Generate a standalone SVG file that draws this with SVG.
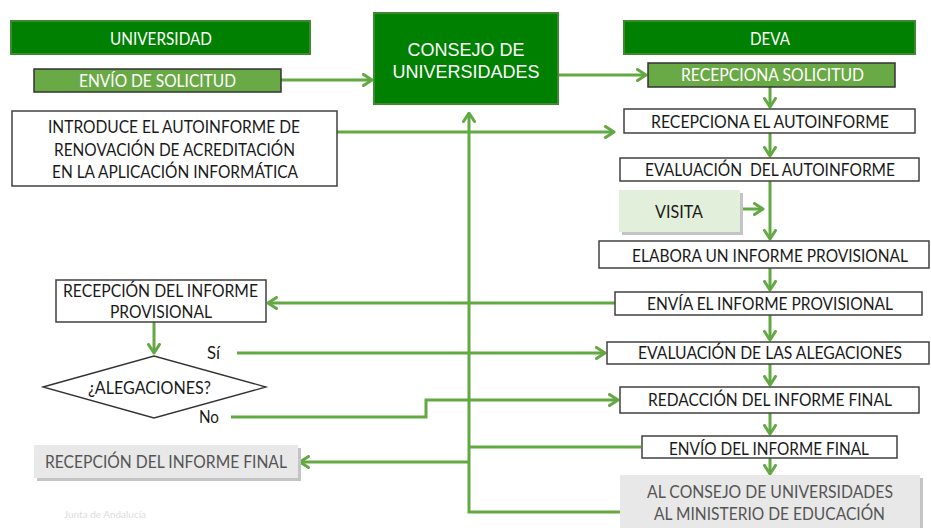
<svg xmlns="http://www.w3.org/2000/svg" width="931" height="528" viewBox="0 0 931 528">
<style>
.t{font-family:Lato,"Liberation Sans",sans-serif;font-size:17px;fill:#1a1a1a;text-anchor:start}
.w{fill:#ffffff}
.g{fill:#555555}
.hdr{fill:#008000;stroke:#3f8a30;stroke-width:2}
.mid{fill:#6aaa46;stroke:#333333;stroke-width:1.5}
.box{fill:#ffffff;stroke:#404040;stroke-width:1.5}
.gray{fill:#e8e8e8}
.shadow{fill:#c4c4c4}
.c{fill:none;stroke:#62a843;stroke-width:3}
.a{marker-end:url(#ah)}
</style>
<defs>
<marker id="ah" viewBox="0 0 12 14" refX="10.5" refY="7" markerWidth="12" markerHeight="14" markerUnits="userSpaceOnUse" orient="auto">
<path d="M2,1.5 L10.5,7 L2,12.5" fill="none" stroke="#62a843" stroke-width="3" stroke-linecap="round" stroke-linejoin="round"/>
</marker>
</defs>

<g id="connectors">
<path class="c a" d="M281,80 H372"/>
<path class="c a" d="M558,75 H646"/>
<path class="c a" d="M337,132 H614"/>
<path class="c a" d="M770,87 V107"/>
<path class="c a" d="M770,133 V156"/>
<path class="c a" d="M770,181 V239"/>
<path class="c a" d="M740,209 H763"/>
<path class="c a" d="M770,268 V290"/>
<path class="c a" d="M770,315 V340"/>
<path class="c a" d="M770,364 V385"/>
<path class="c a" d="M770,413 V434"/>
<path class="c a" d="M770,458 V474"/>
<path class="c a" d="M615,303 H268"/>
<path class="c a" d="M154,322 V353"/>
<path class="c a" d="M237,353 H605"/>
<path class="c a" d="M231,417 H426 V400 H618"/>
<path class="c" d="M641,447 H469"/>
<path class="c a" d="M620,512 H469 V113"/>
<path class="c a" d="M469,462 H300"/>
</g>

<g id="universidad">
<rect class="hdr" x="11" y="21" width="299" height="33"/>
<text class="t w" x="110" y="45" font-size="16" textLength="102" lengthAdjust="spacingAndGlyphs">UNIVERSIDAD</text>
</g>

<g id="envio-solicitud">
<rect class="mid" x="34" y="69" width="247" height="23"/>
<text class="t w" x="79" y="87" font-size="18" textLength="157" lengthAdjust="spacingAndGlyphs">ENVÍO DE SOLICITUD</text>
</g>

<g id="introduce">
<rect class="box" x="12" y="111" width="325" height="75"/>
<text class="t" x="48" y="133" textLength="252" lengthAdjust="spacingAndGlyphs">INTRODUCE EL AUTOINFORME DE</text>
<text class="t" x="54" y="156" textLength="241" lengthAdjust="spacingAndGlyphs">RENOVACIÓN DE ACREDITACIÓN</text>
<text class="t" x="52" y="178" textLength="246" lengthAdjust="spacingAndGlyphs">EN LA APLICACIÓN INFORMÁTICA</text>
</g>

<g id="consejo">
<rect class="hdr" x="374" y="13" width="184" height="91"/>
<text x="466" y="56" font-family="Liberation Sans, Arial, sans-serif" font-size="18" fill="#ffffff" text-anchor="middle">CONSEJO DE</text>
<text x="466" y="78" font-family="Liberation Sans, Arial, sans-serif" font-size="18" fill="#ffffff" text-anchor="middle">UNIVERSIDADES</text>
</g>

<g id="deva">
<rect class="hdr" x="624" y="21" width="291" height="33"/>
<text class="t w" x="750" y="45" font-size="16" textLength="40" lengthAdjust="spacingAndGlyphs">DEVA</text>
</g>

<g id="recepciona-solicitud">
<rect class="mid" x="648" y="63" width="247" height="24"/>
<text class="t w" x="681" y="81" textLength="183" lengthAdjust="spacingAndGlyphs">RECEPCIONA SOLICITUD</text>
</g>

<g id="recepciona-autoinforme">
<rect class="box" x="624" y="109" width="291" height="24"/>
<text class="t" x="651" y="128" textLength="238" lengthAdjust="spacingAndGlyphs">RECEPCIONA EL AUTOINFORME</text>
</g>

<g id="evaluacion-autoinforme">
<rect class="box" x="620" y="158" width="299" height="23"/>
<text class="t" x="645" y="176" textLength="250" lengthAdjust="spacingAndGlyphs" xml:space="preserve">EVALUACIÓN  DEL AUTOINFORME</text>
</g>

<g id="visita">
<rect class="shadow" x="622" y="193" width="121" height="42"/>
<rect x="619" y="190" width="121" height="42" fill="#e2efda"/>
<text class="t" x="655" y="218" textLength="48" lengthAdjust="spacingAndGlyphs">VISITA</text>
</g>

<g id="elabora">
<rect class="box" x="599" y="241" width="330" height="27"/>
<text class="t" x="632" y="262" textLength="276" lengthAdjust="spacingAndGlyphs">ELABORA UN INFORME PROVISIONAL</text>
</g>

<g id="envia-provisional">
<rect class="box" x="615" y="292" width="307" height="23"/>
<text class="t" x="647" y="310" textLength="246" lengthAdjust="spacingAndGlyphs">ENVÍA EL INFORME PROVISIONAL</text>
</g>

<g id="evaluacion-alegaciones">
<rect class="box" x="607" y="342" width="322" height="22"/>
<text class="t" x="638" y="359" textLength="264" lengthAdjust="spacingAndGlyphs">EVALUACIÓN DE LAS ALEGACIONES</text>
</g>

<g id="redaccion">
<rect class="box" x="620" y="387" width="299" height="26"/>
<text class="t" x="648" y="406" textLength="244" lengthAdjust="spacingAndGlyphs">REDACCIÓN DEL INFORME FINAL</text>
</g>

<g id="envio-final">
<rect class="box" x="642" y="436" width="255" height="22"/>
<text class="t" x="669" y="455" textLength="200" lengthAdjust="spacingAndGlyphs">ENVÍO DEL INFORME FINAL</text>
</g>

<g id="al-consejo">
<rect class="shadow" x="623" y="478" width="300" height="52"/>
<rect class="gray" x="620" y="475" width="300" height="53"/>
<text class="t g" x="647" y="498" textLength="246" lengthAdjust="spacingAndGlyphs">AL CONSEJO DE UNIVERSIDADES</text>
<text class="t g" x="654" y="520" textLength="231" lengthAdjust="spacingAndGlyphs">AL MINISTERIO DE EDUCACIÓN</text>
</g>

<g id="recepcion-provisional">
<rect class="box" x="56" y="280" width="210" height="42"/>
<text class="t" x="63" y="297" textLength="195" lengthAdjust="spacingAndGlyphs">RECEPCIÓN DEL INFORME</text>
<text class="t" x="110" y="318" textLength="102" lengthAdjust="spacingAndGlyphs">PROVISIONAL</text>
</g>

<g id="alegaciones">
<polygon points="43,387 154,356 266,387 154,418" fill="#ffffff" stroke="#333333" stroke-width="1.3"/>
<text class="t" x="88" y="394" textLength="123" lengthAdjust="spacingAndGlyphs">¿ALEGACIONES?</text>
<text class="t" x="207" y="359" font-size="16" textLength="13" lengthAdjust="spacingAndGlyphs">Sí</text>
<text class="t" x="199" y="423" font-size="16" textLength="20" lengthAdjust="spacingAndGlyphs">No</text>
</g>

<g id="recepcion-final">
<rect class="shadow" x="37" y="448" width="264" height="33"/>
<rect class="gray" x="34" y="445" width="264" height="33"/>
<text class="t g" x="45" y="468" textLength="242" lengthAdjust="spacingAndGlyphs">RECEPCIÓN DEL INFORME FINAL</text>
</g>

<text x="64" y="518" font-family="Lato, Liberation Sans, sans-serif" font-size="10" fill="#dddddd" textLength="82" lengthAdjust="spacingAndGlyphs">Junta de Andalucía</text>
</svg>
